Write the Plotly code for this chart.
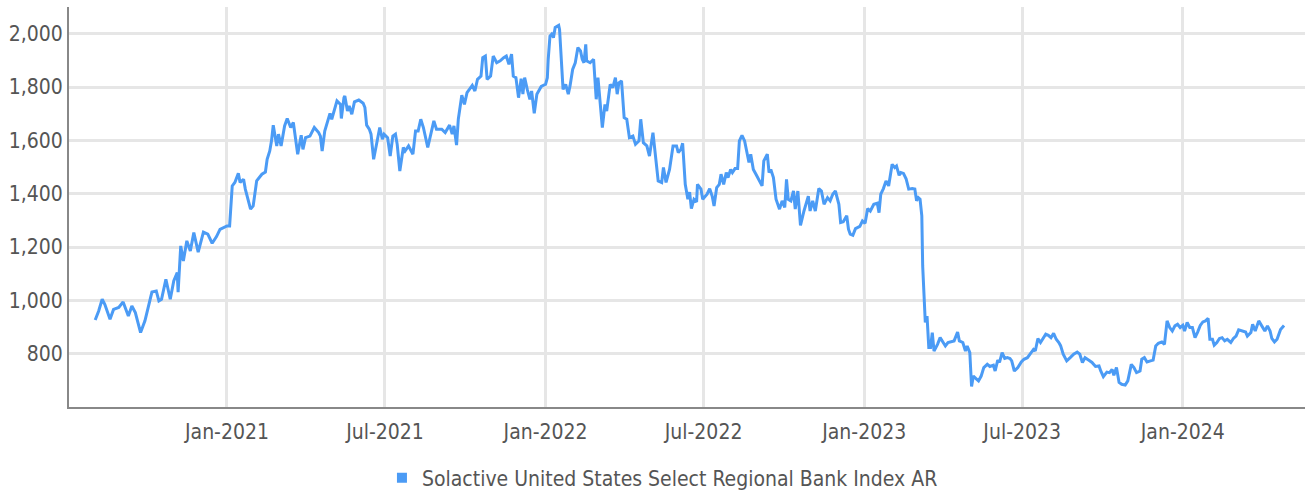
import pandas as pd
import plotly.graph_objects as go

# Trading-day samples, expressed as days since 2021-01-01
days_since_2021 = [
    -151, -147, -143, -140, -134, -130, -124, -119, -113, -109, -105, -99, -94, -86, -81, -78, -75, -70, -65, -61,
    -57, -56, -53, -50, -46, -42, -38, -33, -27, -22, -17, -12, -8, 0, 3, 6, 9, 13, 15, 19,
    21, 27, 30, 34, 40, 44, 46, 49, 51, 53, 57, 59, 62, 66, 69, 73, 76, 81, 85, 87,
    90, 95, 100, 105, 107, 109, 112, 116, 118, 120, 123, 126, 130, 131, 134, 135, 138, 140, 143, 146,
    151, 156, 158, 160, 163, 165, 168, 171, 175, 178, 180, 184, 187, 190, 193, 195, 198, 202, 204, 208,
    213, 216, 219, 222, 225, 230, 235, 237, 240, 246, 250, 252, 255, 258, 260, 263, 265, 269, 272, 275,
    279, 281, 284, 287, 291, 293, 296, 298, 302, 305, 309, 313, 317, 320, 323, 326, 328, 331, 334, 337,
    339, 341, 344, 347, 349, 352, 355, 360, 365, 367, 368, 370, 372, 374, 376, 380, 381, 383, 385, 388,
    391, 393, 396, 399, 402, 405, 407, 409, 411, 412, 416, 420, 423, 425, 428, 430, 433, 435, 439, 442,
    445, 447, 449, 452, 455, 458, 461, 465, 468, 472, 474, 477, 481, 484, 488, 491, 494, 498, 500, 503,
    507, 511, 515, 517, 520, 522, 525, 528, 530, 532, 535, 538, 539, 543, 545, 550, 553, 556, 558, 561,
    564, 566, 569, 572, 574, 577, 579, 582, 585, 587, 590, 593, 596, 598, 600, 603, 606, 609, 613, 615,
    619, 621, 623, 626, 629, 633, 636, 639, 641, 643, 646, 649, 651, 654, 657, 661, 664, 666, 668, 671,
    674, 678, 681, 683, 684, 688, 691, 694, 697, 701, 703, 706, 710, 712, 714, 717, 720, 725, 728, 731,
    734, 737, 741, 745, 747, 749, 752, 755, 758, 762, 765, 767, 770, 772, 775, 778, 781, 785, 788, 790,
    792, 794, 796, 797, 799, 800, 802, 804, 806, 808, 810, 814, 817, 819, 823, 826, 830, 833, 837, 839,
    843, 846, 848, 851, 853, 855, 859, 861, 864, 867, 871, 874, 878, 880, 883, 885, 888, 891, 894, 897,
    899, 902, 906, 910, 913, 917, 920, 924, 926, 929, 932, 935, 938, 941, 944, 947, 950, 953, 955, 958,
    962, 966, 970, 974, 977, 980, 983, 987, 991, 995, 999, 1001, 1004, 1008, 1011, 1014, 1016, 1019, 1022, 1025,
    1029, 1032, 1036, 1039, 1042, 1046, 1048, 1051, 1054, 1058, 1061, 1064, 1067, 1071, 1074, 1077, 1080, 1083, 1086, 1089,
    1092, 1095, 1097, 1100, 1103, 1106, 1109, 1112, 1115, 1118, 1121, 1124, 1126, 1129, 1131, 1134, 1137, 1140, 1143, 1146,
    1150, 1153, 1156, 1159, 1163, 1167, 1169, 1173, 1175, 1178, 1182, 1185, 1189, 1192, 1195, 1197, 1200, 1203, 1207, 1211,
]

index_values = [
    926, 960, 1004, 985, 929, 966, 973, 994, 941, 979, 954, 879, 923, 1031, 1035, 998, 1004, 1079, 1004, 1073,
    1104, 1031, 1204, 1148, 1223, 1185, 1254, 1181, 1256, 1248, 1214, 1239, 1266, 1279, 1279, 1429, 1442, 1476, 1442, 1454,
    1417, 1342, 1354, 1448, 1473, 1481, 1529, 1560, 1598, 1657, 1579, 1623, 1579, 1654, 1682, 1648, 1667, 1548, 1619, 1566,
    1610, 1616, 1648, 1629, 1616, 1560, 1635, 1675, 1701, 1679, 1716, 1748, 1735, 1682, 1760, 1766, 1710, 1729, 1698, 1744,
    1751, 1739, 1723, 1657, 1642, 1623, 1529, 1585, 1648, 1604, 1623, 1610, 1541, 1616, 1623, 1585, 1485, 1573, 1560, 1579,
    1548, 1635, 1635, 1679, 1648, 1573, 1642, 1673, 1642, 1642, 1629, 1642, 1657, 1623, 1654, 1582, 1679, 1769, 1735, 1779,
    1795, 1806, 1785, 1829, 1841, 1910, 1916, 1829, 1841, 1916, 1891, 1898, 1910, 1916, 1885, 1923, 1841, 1835, 1760, 1831,
    1773, 1835, 1791, 1754, 1785, 1701, 1773, 1802, 1810, 1835, 1904, 1991, 1998, 1985, 2023, 2031, 2016, 1904, 1791, 1810,
    1773, 1804, 1866, 1891, 1948, 1935, 1904, 1891, 1960, 1898, 1891, 1904, 1754, 1835, 1716, 1648, 1735, 1710, 1810, 1798,
    1835, 1773, 1816, 1823, 1685, 1679, 1610, 1616, 1585, 1598, 1679, 1591, 1579, 1541, 1629, 1535, 1448, 1442, 1498, 1442,
    1491, 1579, 1579, 1554, 1566, 1589, 1435, 1379, 1406, 1344, 1379, 1369, 1435, 1417, 1379, 1398, 1419, 1389, 1354, 1423,
    1435, 1473, 1435, 1479, 1460, 1491, 1479, 1494, 1494, 1598, 1619, 1598, 1548, 1517, 1548, 1491, 1473, 1454, 1429, 1523,
    1548, 1479, 1491, 1460, 1379, 1342, 1373, 1348, 1454, 1379, 1373, 1410, 1342, 1410, 1281, 1335, 1373, 1391, 1335, 1373,
    1335, 1419, 1410, 1379, 1360, 1385, 1373, 1398, 1410, 1360, 1292, 1295, 1317, 1267, 1248, 1244, 1269, 1277, 1298, 1289,
    1344, 1335, 1360, 1364, 1329, 1398, 1419, 1448, 1429, 1510, 1498, 1504, 1469, 1479, 1476, 1456, 1417, 1419, 1417, 1373,
    1385, 1379, 1317, 1129, 1016, 917, 941, 823, 823, 879, 810, 835, 860, 848, 829, 842, 844, 848, 881, 848,
    842, 810, 829, 804, 677, 716, 704, 698, 716, 748, 760, 752, 757, 735, 776, 767, 804, 782, 785, 782,
    773, 735, 748, 769, 779, 785, 798, 816, 810, 857, 842, 857, 873, 869, 860, 876, 854, 842, 830, 798,
    773, 785, 798, 806, 798, 767, 785, 776, 767, 752, 754, 735, 714, 731, 729, 741, 719, 748, 692, 685,
    682, 698, 760, 748, 729, 735, 779, 785, 769, 773, 776, 829, 839, 844, 835, 923, 898, 885, 904, 910,
    898, 906, 885, 917, 898, 898, 860, 881, 906, 919, 923, 932, 854, 854, 832, 842, 857, 860, 848, 854,
    842, 857, 866, 889, 885, 881, 866, 879, 910, 885, 923, 906, 885, 904, 885, 857, 844, 854, 891, 906,
]

series_name = "Solactive United States Select Regional Bank Index AR"
base_date = "2021-01-01"
x_range = ["2020-07-04", "2024-05-20"]
y_range = [600, 2100]
y_ticks = [800, 1000, 1200, 1400, 1600, 1800, 2000]

dates = pd.Timestamp(base_date) + pd.to_timedelta(days_since_2021, unit="D")

BLUE = "#4b9bf5"
FONT = "DejaVu Sans Condensed, Liberation Sans Narrow, sans-serif"
TEXT = "#555555"

fig = go.Figure()
fig.add_trace(go.Scatter(
    x=dates, y=index_values, mode="lines",
    line=dict(color=BLUE, width=3),
    name=series_name, showlegend=False,
))
fig.add_trace(go.Scatter(
    x=[None], y=[None], mode="markers",
    marker=dict(symbol="square", size=10, color=BLUE),
    name=series_name, showlegend=True,
))

fig.update_layout(
    width=1306, height=493,
    margin=dict(l=69, r=1, t=7, b=86, autoexpand=False),
    paper_bgcolor="white", plot_bgcolor="white",
    font=dict(family=FONT, size=21, color=TEXT),
    legend=dict(
        orientation="h", x=0.2532, xanchor="left", y=-0.178, yanchor="middle",
        font=dict(family=FONT, size=21, color=TEXT),
        itemwidth=30, tracegroupgap=0,
    ),
    xaxis=dict(
        type="date", range=x_range,
        tick0="2021-01-01", dtick="M6", tickformat="%b-%Y",
        showgrid=True, gridcolor="#e6e6e6", gridwidth=2.5,
        showline=True, linecolor="#888888", linewidth=2,
        ticks="", ticklabelstandoff=5, zeroline=False, automargin=False,
    ),
    yaxis=dict(
        range=y_range, tickvals=y_ticks, tickformat=",d",
        showgrid=True, gridcolor="#e6e6e6", gridwidth=2.5,
        showline=True, linecolor="#888888", linewidth=2,
        ticks="", ticklabelstandoff=0, zeroline=False, automargin=False,
    ),
)

fig.write_html(
    "out.html",
    config={"displayModeBar": False},
    post_script="document.body.style.margin='0';document.body.style.overflow='hidden';",
)
